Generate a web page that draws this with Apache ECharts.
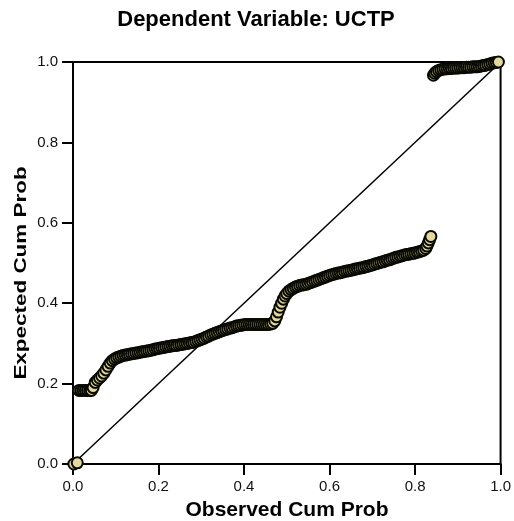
<!DOCTYPE html>
<html>
<head>
<meta charset="utf-8">
<script src="https://cdn.jsdelivr.net/npm/echarts@6/dist/echarts.min.js"></script>
<style>
  html, body { margin: 0; padding: 0; background: #fff; }
  #chart { width: 514px; height: 521px; }
</style>
</head>
<body>
<div id="chart"></div>
<script>
// Normal P-P plot of regression standardized residuals
const chartTitle = 'Dependent Variable: UCTP';
const xAxisName = 'Observed Cum Prob';
const yAxisName = 'Expected Cum Prob';

// Observed cumulative probability of each case
const observedCum = [
  0.002, 0.010,
  0.014, 0.019, 0.024, 0.029, 0.034, 0.039, 0.043,
  0.047, 0.052, 0.057, 0.062, 0.067, 0.072, 0.077, 0.082, 0.087, 0.092, 0.097, 0.102, 0.107,
  0.112, 0.117, 0.122, 0.127, 0.132, 0.137, 0.142, 0.147, 0.152, 0.157,
  0.162, 0.167, 0.172, 0.177, 0.182, 0.187, 0.192, 0.197, 0.202, 0.207,
  0.212, 0.217, 0.222, 0.227, 0.232, 0.237, 0.242, 0.247, 0.252, 0.257,
  0.262, 0.267, 0.272, 0.277, 0.282, 0.287, 0.292, 0.297, 0.302, 0.307,
  0.312, 0.317, 0.322, 0.327, 0.332, 0.337, 0.342, 0.347, 0.352, 0.357,
  0.362, 0.367, 0.372, 0.377, 0.382, 0.387, 0.392, 0.397, 0.402, 0.407,
  0.412, 0.417, 0.422, 0.427, 0.432, 0.437, 0.442, 0.447, 0.452, 0.457,
  0.462, 0.467,
  0.472, 0.476, 0.480, 0.484, 0.488, 0.492, 0.496, 0.500, 0.505, 0.510,
  0.515, 0.520, 0.525, 0.530, 0.535, 0.540, 0.545,
  0.550, 0.555, 0.560, 0.565, 0.570, 0.575, 0.580, 0.585, 0.590, 0.595,
  0.600, 0.605, 0.610, 0.615, 0.620, 0.625, 0.630, 0.635, 0.640, 0.645,
  0.650, 0.655, 0.660, 0.665, 0.670, 0.675, 0.680, 0.685, 0.690, 0.695,
  0.700, 0.705, 0.710, 0.715, 0.720, 0.725, 0.730, 0.735, 0.740, 0.745,
  0.750, 0.755, 0.760, 0.765, 0.770, 0.775, 0.780, 0.785, 0.790, 0.795,
  0.800, 0.805, 0.810, 0.815, 0.820, 0.825, 0.828, 0.831, 0.834, 0.837,
  0.843, 0.846, 0.850, 0.855, 0.860, 0.865, 0.870, 0.875, 0.880, 0.885,
  0.890, 0.895, 0.900, 0.905, 0.910, 0.915, 0.920, 0.925, 0.930, 0.935,
  0.940, 0.945, 0.950, 0.955, 0.960, 0.965, 0.970, 0.975, 0.980, 0.985,
  0.990, 0.995
];

// Expected cumulative probability under normality, same case order
const expectedCum = [
  0.000, 0.003,
  0.183, 0.183, 0.183, 0.183, 0.183, 0.183, 0.183,
  0.190, 0.203, 0.209, 0.214, 0.219, 0.226, 0.234, 0.243, 0.251, 0.257, 0.261, 0.264, 0.266,
  0.268, 0.270, 0.271, 0.272, 0.273, 0.274, 0.275, 0.276, 0.277, 0.278,
  0.279, 0.280, 0.281, 0.282, 0.283, 0.284, 0.286, 0.287, 0.288, 0.289,
  0.290, 0.291, 0.292, 0.293, 0.294, 0.295, 0.295, 0.296, 0.297, 0.298,
  0.299, 0.300, 0.301, 0.302, 0.303, 0.305, 0.307, 0.309, 0.311, 0.313,
  0.316, 0.318, 0.321, 0.323, 0.325, 0.327, 0.329, 0.331, 0.333, 0.335,
  0.336, 0.338, 0.339, 0.341, 0.343, 0.344, 0.345, 0.346, 0.347, 0.347,
  0.347, 0.347, 0.347, 0.347, 0.347, 0.347, 0.347, 0.347, 0.347, 0.347,
  0.348, 0.350,
  0.356, 0.366, 0.378, 0.390, 0.400, 0.410, 0.418, 0.424, 0.430, 0.434,
  0.437, 0.440, 0.442, 0.444, 0.445, 0.446, 0.447,
  0.449, 0.451, 0.453, 0.455, 0.457, 0.459, 0.461, 0.463, 0.465, 0.467,
  0.469, 0.471, 0.472, 0.474, 0.475, 0.476, 0.477, 0.479, 0.480, 0.481,
  0.482, 0.483, 0.485, 0.486, 0.487, 0.488, 0.489, 0.491, 0.492, 0.494,
  0.495, 0.497, 0.499, 0.500, 0.502, 0.503, 0.505, 0.507, 0.508, 0.510,
  0.512, 0.514, 0.515, 0.517, 0.518, 0.520, 0.521, 0.522, 0.523, 0.524,
  0.525, 0.527, 0.528, 0.530, 0.532, 0.536, 0.542, 0.550, 0.558, 0.566,
  0.967, 0.972, 0.976, 0.979, 0.981, 0.982, 0.983, 0.983, 0.984, 0.984,
  0.985, 0.985, 0.985, 0.986, 0.986, 0.986, 0.987, 0.987, 0.987, 0.988,
  0.988, 0.988, 0.989, 0.990, 0.991, 0.992, 0.994, 0.995, 0.997, 0.998,
  0.999, 1.000
];

// Reference diagonal: expected equals observed
const diagonalX = [0, 1];
const diagonalY = [0, 1];

const FONT = "'Liberation Sans', Arial, sans-serif";

const points = observedCum.map((x, i) => [x, expectedCum[i]]);
const diagonal = diagonalX.map((x, i) => [x, diagonalY[i]]);

const chart = echarts.init(document.getElementById('chart'), null, { renderer: 'canvas' });

const axisCommon = {
  type: 'value',
  min: 0,
  max: 1,
  interval: 0.2,
  splitLine: { show: false },
  axisLine: { show: true, onZero: false, lineStyle: { color: '#000', width: 2 } },
  axisTick: { show: true, inside: false, length: 11, lineStyle: { color: '#000', width: 2 } },
  axisLabel: {
    color: '#111',
    fontFamily: FONT,
    fontSize: 15,
    margin: 15,
    formatter: v => v.toFixed(1)
  }
};

chart.setOption({
  animation: false,
  backgroundColor: '#fff',
  grid: {
    left: 73, right: 11, top: 62, bottom: 57,
    show: true, borderColor: '#000', borderWidth: 2, backgroundColor: 'transparent'
  },
  xAxis: Object.assign({}, axisCommon),
  yAxis: Object.assign({}, axisCommon),
  graphic: [
    {
      type: 'text', x: 256, y: 20,
      style: {
        text: chartTitle, fill: '#000', font: 'bold 22px ' + FONT,
        align: 'center', verticalAlign: 'middle'
      }
    },
    {
      type: 'text', x: 287, y: 510,
      style: {
        text: xAxisName, fill: '#000', font: 'bold 21px ' + FONT,
        align: 'center', verticalAlign: 'middle'
      }
    },
    {
      type: 'text', x: 21, y: 273, rotation: Math.PI / 2, scaleX: 1.32, scaleY: 1,
      style: {
        text: yAxisName, fill: '#000', font: 'bold 17px ' + FONT,
        align: 'center', verticalAlign: 'middle'
      }
    }
  ],
  series: [
    {
      type: 'line',
      data: diagonal,
      symbol: 'none',
      silent: true,
      z: 1,
      lineStyle: { color: '#000', width: 1.5 }
    },
    {
      type: 'scatter',
      data: points,
      symbol: 'circle',
      symbolSize: 11,
      clip: false,
      z: 2,
      itemStyle: { color: '#e3d9a0', borderColor: '#0a0a05', borderWidth: 2, opacity: 1 }
    }
  ]
});
</script>
</body>
</html>
